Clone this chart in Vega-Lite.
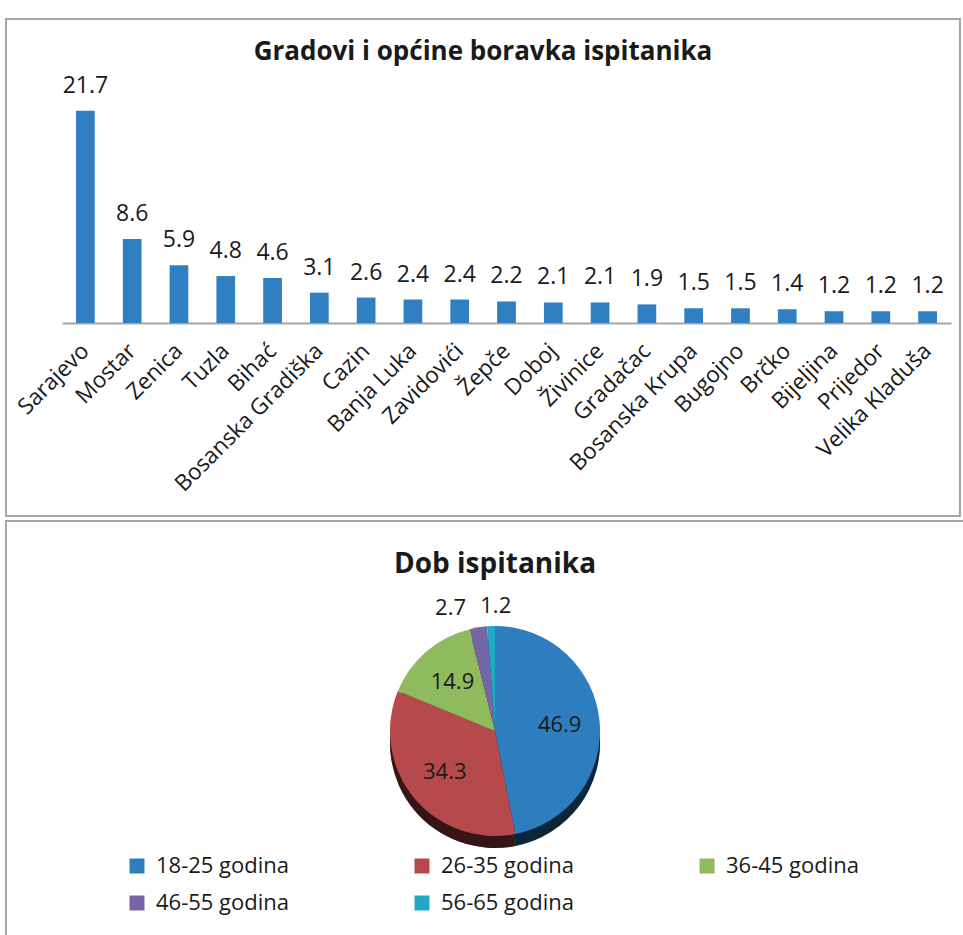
{
  "$schema": "https://vega.github.io/schema/vega-lite/v6.json",
  "padding": {"left": 5, "top": 18, "right": 0, "bottom": 0},
  "background": "white",
  "spacing": 3,
  "config": {
    "view": {"stroke": "#a6a6a6", "strokeWidth": 2},
    "font": "Open Sans"
  },
  "datasets": {
    "cities": [
      {"grad": "Sarajevo", "pct": 21.7},
      {"grad": "Mostar", "pct": 8.6},
      {"grad": "Zenica", "pct": 5.9},
      {"grad": "Tuzla", "pct": 4.8},
      {"grad": "Bihać", "pct": 4.6},
      {"grad": "Bosanska Gradiška", "pct": 3.1},
      {"grad": "Cazin", "pct": 2.6},
      {"grad": "Banja Luka", "pct": 2.4},
      {"grad": "Zavidovići", "pct": 2.4},
      {"grad": "Žepče", "pct": 2.2},
      {"grad": "Doboj", "pct": 2.1},
      {"grad": "Živinice", "pct": 2.1},
      {"grad": "Gradačac", "pct": 1.9},
      {"grad": "Bosanska Krupa", "pct": 1.5},
      {"grad": "Bugojno", "pct": 1.5},
      {"grad": "Brčko", "pct": 1.4},
      {"grad": "Bijeljina", "pct": 1.2},
      {"grad": "Prijedor", "pct": 1.2},
      {"grad": "Velika Kladuša", "pct": 1.2}
    ],
    "ages": [
      {"dob": "18-25 godina", "pct": 46.9},
      {"dob": "26-35 godina", "pct": 34.3},
      {"dob": "36-45 godina", "pct": 14.9},
      {"dob": "46-55 godina", "pct": 2.7},
      {"dob": "56-65 godina", "pct": 1.2}
    ]
  },
  "vconcat": [
    {
      "width": 954,
      "height": 497,
      "data": {"name": "cities"},
      "title": {
        "text": "Gradovi i općine boravka ispitanika",
        "offset": -67,
        "baseline": "alphabetic",
        "anchor": "middle",
        "font": "Open Sans",
        "fontSize": 26,
        "fontWeight": "bold",
        "color": "#1a1a1a"
      },
      "encoding": {
        "x": {
          "field": "grad",
          "type": "nominal",
          "sort": null,
          "scale": {"range": [56, 945], "paddingInner": 0.6, "paddingOuter": 0.3},
          "axis": {
            "orient": "bottom",
            "offset": -193,
            "title": null,
            "ticks": false,
            "grid": false,
            "domainColor": "#a6a6a6",
            "domainWidth": 2,
            "labelAngle": -45,
            "labelAlign": "right",
            "labelBaseline": "middle",
            "labelPadding": 24,
            "labelFont": "Open Sans",
            "labelFontSize": 22.5,
            "labelColor": "#1a1a1a",
            "labelLimit": 400,
            "labelOverlap": false
          }
        },
        "y": {
          "field": "pct",
          "type": "quantitative",
          "scale": {"domain": [-19.75, 31.1], "nice": false, "zero": false},
          "axis": null
        }
      },
      "layer": [
        {"mark": {"type": "bar", "color": "#2f7fc1"}},
        {
          "mark": {"type": "text", "baseline": "alphabetic", "dy": -18, "font": "Open Sans", "fontSize": 23, "color": "#1a1a1a"},
          "encoding": {"text": {"field": "pct", "type": "quantitative", "format": ".1f"}}
        }
      ]
    },
    {
      "width": 978,
      "height": 420,
      "data": {"name": "ages"},
      "title": {
        "text": "Dob ispitanika",
        "offset": -80,
        "baseline": "alphabetic",
        "anchor": "middle",
        "font": "Open Sans",
        "fontSize": 28,
        "fontWeight": "bold",
        "color": "#1a1a1a"
      },
      "layer": [
        {
          "mark": {"type": "point", "opacity": 0},
          "encoding": {
            "x": {"field": "pct", "type": "quantitative", "axis": null},
            "y": {"field": "pct", "type": "quantitative", "axis": null}
          }
        },
        {
          "mark": {"type": "arc", "radius": 105, "yOffset": 12},
          "encoding": {
            "theta": {"field": "pct", "type": "quantitative", "stack": true},
            "order": {"field": "dob", "type": "nominal", "sort": "ascending"},
            "color": {
              "field": "dob", "type": "nominal",
              "scale": {"domain": ["18-25 godina", "26-35 godina", "36-45 godina", "46-55 godina", "56-65 godina"], "range": ["#2e7ebf", "#b6494c", "#8fbb5e", "#7566a6", "#20a9c6"]},
              "legend": {
                "title": null,
                "orient": "none",
                "legendX": 120,
                "legendY": 836,
                "direction": "horizontal",
                "columns": 3,
                "columnPadding": 121,
                "rowPadding": 15,
                "symbolType": "square",
                "symbolSize": 225,
                "symbolStrokeWidth": 0,
                "labelOffset": 8,
                "labelFont": "Open Sans",
                "labelFontSize": 22,
                "labelColor": "#1a1a1a",
                "labelLimit": 300
              }
            }
          }
        },
        {
          "mark": {"type": "arc", "radius": 105, "yOffset": 12, "color": "#000000", "opacity": 0.7},
          "encoding": {
            "theta": {"field": "pct", "type": "quantitative", "stack": true},
            "order": {"field": "dob", "type": "nominal", "sort": "ascending"}
          }
        },
        {
          "mark": {"type": "arc", "radius": 105},
          "encoding": {
            "theta": {"field": "pct", "type": "quantitative", "stack": true},
            "order": {"field": "dob", "type": "nominal", "sort": "ascending"},
            "color": {
              "field": "dob", "type": "nominal",
              "legend": {
                "title": null,
                "orient": "none",
                "legendX": 120,
                "legendY": 836,
                "direction": "horizontal",
                "columns": 3,
                "columnPadding": 121,
                "rowPadding": 15,
                "symbolType": "square",
                "symbolSize": 225,
                "symbolStrokeWidth": 0,
                "labelOffset": 8,
                "labelFont": "Open Sans",
                "labelFontSize": 22,
                "labelColor": "#1a1a1a",
                "labelLimit": 300
              }
            }
          }
        },
        {
          "mark": {"type": "text", "radius": 65, "font": "Open Sans", "fontSize": 22, "color": "#1a1a1a"},
          "encoding": {
            "theta": {"field": "pct", "type": "quantitative", "stack": true},
            "order": {"field": "dob", "type": "nominal", "sort": "ascending"},
            "text": {"condition": {"test": "datum.pct > 5", "field": "pct", "type": "quantitative", "format": ".1f"}, "value": ""}
          }
        },
        {
          "mark": {"type": "text", "radius": 125, "align": "right", "dx": -9, "font": "Open Sans", "fontSize": 22, "color": "#1a1a1a"},
          "encoding": {
            "theta": {"field": "pct", "type": "quantitative", "stack": true},
            "order": {"field": "dob", "type": "nominal", "sort": "ascending"},
            "text": {"condition": {"test": "datum.dob === '46-55 godina'", "field": "pct", "type": "quantitative", "format": ".1f"}, "value": ""}
          }
        },
        {
          "mark": {"type": "text", "radius": 125, "align": "left", "dx": -10, "font": "Open Sans", "fontSize": 22, "color": "#1a1a1a"},
          "encoding": {
            "theta": {"field": "pct", "type": "quantitative", "stack": true},
            "order": {"field": "dob", "type": "nominal", "sort": "ascending"},
            "text": {"condition": {"test": "datum.dob === '56-65 godina'", "field": "pct", "type": "quantitative", "format": ".1f"}, "value": ""}
          }
        }
      ]
    }
  ]
}
